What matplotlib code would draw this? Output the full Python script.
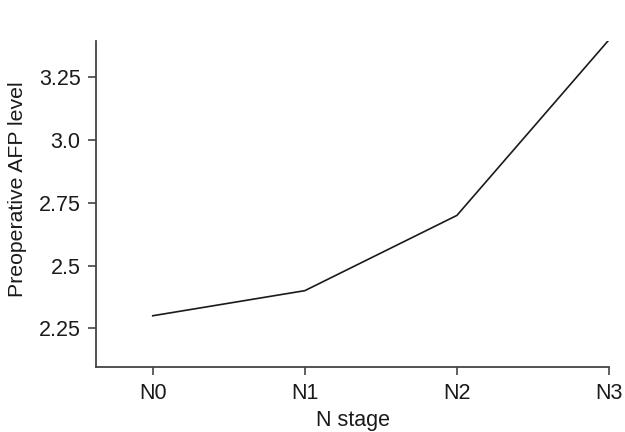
import matplotlib
matplotlib.use("Agg")
import matplotlib.pyplot as plt

# N stage vs preoperative AFP level (log scale values)
stages = ["N0", "N1", "N2", "N3"]
afp_level = [2.30, 2.40, 2.70, 3.40]
yticks = [2.25, 2.5, 2.75, 3.0, 3.25]
ytick_labels = ["2.25", "2.5", "2.75", "3.0", "3.25"]

plt.rcParams["font.family"] = ["Liberation Sans", "DejaVu Sans"]

fig = plt.figure(figsize=(6.25, 4.32), dpi=100)
ax = fig.add_axes([0.1536, 0.1512, 0.8208, 0.7538])

x = list(range(len(stages)))
ax.plot(x, afp_level, color="#1a1a1a", lw=1.2)

ax.set_xlim(-0.373, 3.0)
ax.set_ylim(2.097, 3.395)
ax.set_xticks(x)
ax.set_xticklabels(stages)
ax.set_yticks(yticks)
ax.set_yticklabels(ytick_labels)

for s in ["top", "right"]:
    ax.spines[s].set_visible(False)
for s in ["left", "bottom"]:
    ax.spines[s].set_color("#444444")
    ax.spines[s].set_linewidth(1.3)

ax.tick_params(axis="both", colors="#444444", width=1.2, length=6,
               labelsize=15.5, labelcolor="#1a1a1a", pad=5)
ax.tick_params(axis="x", pad=6)

ax.set_xlabel("N stage", fontsize=15.5, color="#1a1a1a", labelpad=4)
ax.set_ylabel("Preoperative AFP level", fontsize=15.3, color="#1a1a1a", labelpad=4)
ax.yaxis.set_label_coords(-0.135, 0.545)

fig.savefig("out.png", dpi=100)
